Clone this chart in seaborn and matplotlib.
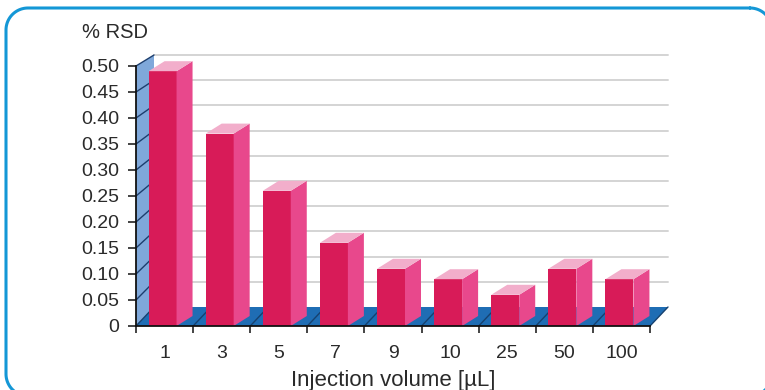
import numpy as np
import matplotlib
matplotlib.use("Agg")
import matplotlib.pyplot as plt
import pandas as pd
import seaborn as sns
from matplotlib.patches import Polygon

# Data
volumes = ["1", "3", "5", "7", "9", "10", "25", "50", "100"]
rsd = [0.49, 0.37, 0.26, 0.16, 0.11, 0.09, 0.06, 0.11, 0.09]
y_ticks = [0.0, 0.05, 0.10, 0.15, 0.20, 0.25, 0.30, 0.35, 0.40, 0.45, 0.50]
y_tick_labels = ["0", "0.05", "0.10", "0.15", "0.20", "0.25", "0.30",
                 "0.35", "0.40", "0.45", "0.50"]

# Colours
FRONT = "#d81b58"
SIDE = "#e8488c"
TOP = "#f2aecb"
WALL = "#7fa8da"
FLOOR = "#1f6db4"
GRID = "#d4d4d4"
TEXT = "#2a2a2a"
FRAME = "#1497d6"

sns.set_theme(style="white")
plt.rcParams["font.family"] = ["Liberation Sans", "DejaVu Sans"]

W, H, DPI = 765, 390, 100
fig = plt.figure(figsize=(W / DPI, H / DPI), dpi=DPI)
fig.patch.set_facecolor("white")

# background layer in pixel units for the rounded frame
bg = fig.add_axes([0, 0, 1, 1], zorder=-5)
bg.set_xlim(0, W)
bg.set_ylim(H, 0)
bg.axis("off")


def rounded_rect(x0, y0, x1, y1, r, k=24):
    pts = []
    corners = [(x1 - r, y0 + r, -90, 0), (x1 - r, y1 - r, 0, 90),
               (x0 + r, y1 - r, 90, 180), (x0 + r, y0 + r, 180, 270)]
    for cx, cy, a0, a1 in corners:
        a = np.radians(np.linspace(a0, a1, k))
        pts.append(np.column_stack([cx + r * np.cos(a), cy + r * np.sin(a)]))
    pts = np.vstack(pts + [pts[0][:1]])
    return pts[:, 0], pts[:, 1]


fx, fy = rounded_rect(6, 8, 772, 396, 22)
bg.plot(fx, fy, color=FRAME, lw=2.2, clip_on=False)

# Axes box: front plane of the pseudo-3D chart
X0, X1, Y0, Y1 = 136, 650, 326, 66
ax = fig.add_axes([X0 / W, (H - Y0) / H, (X1 - X0) / W, (Y0 - Y1) / H])
ax.set_facecolor("none")

n = len(volumes)
px_x = (X1 - X0) / n          # pixels per category
px_y = (Y0 - Y1) / 0.5        # pixels per unit of % RSD

# depth offsets (data units)
wall_dx = 18 / px_x
floor_dy = 19 / px_y
wall_top_dy = 11 / px_y
bar_dx = 16 / px_x
bar_dy = 10 / px_y


def back_y(v):
    # height on the back wall for a value on the front axis
    return floor_dy + v * (1 - (floor_dy - wall_top_dy) / 0.5)


df = pd.DataFrame({"volume": volumes, "rsd": rsd})
sns.barplot(data=df, x="volume", y="rsd", order=volumes, color=FRONT,
            saturation=1, width=0.49, linewidth=0, ax=ax, zorder=6)

ax.set_xlim(-0.5, n - 0.5)
ax.set_ylim(0, 0.5)

# side wall
left = -0.5
ax.add_patch(Polygon([(left, 0), (left, 0.5), (left + wall_dx, back_y(0.5)),
                      (left + wall_dx, back_y(0))],
                     closed=True, facecolor=WALL, edgecolor="none",
                     zorder=1, clip_on=False))
for v in y_ticks[1:]:
    ax.plot([left, left + wall_dx], [v, back_y(v)], color="#1e3f6e",
            lw=1.0, zorder=2, clip_on=False)

# floor
right = n - 0.5
ax.add_patch(Polygon([(left, 0), (right, 0), (right + wall_dx, floor_dy),
                      (left + wall_dx, floor_dy)],
                     closed=True, facecolor=FLOOR, edgecolor="none",
                     zorder=1, clip_on=False))
for b in range(n + 1):
    xb = b - 0.5
    ax.plot([xb, xb + wall_dx], [0, floor_dy], color="#16416f",
            lw=1.0, zorder=2, clip_on=False)

# back wall grid lines
for v in y_ticks[1:]:
    ax.plot([left + wall_dx, right + wall_dx], [back_y(v), back_y(v)],
            color=GRID, lw=1.4, zorder=1.5, clip_on=False)

# bar sides and tops
front_rgb = matplotlib.colors.to_rgb(FRONT)
for p in list(ax.patches):
    if tuple(p.get_facecolor()[:3]) != front_rgb:
        continue
    p.set_x(p.get_x() - 0.035)
    x0 = p.get_x()
    x1 = x0 + p.get_width()
    h = p.get_height()
    ax.add_patch(Polygon([(x1, 0), (x1, h), (x1 + bar_dx, h + bar_dy),
                          (x1 + bar_dx, bar_dy)], closed=True,
                         facecolor=SIDE, edgecolor="none", zorder=6,
                         clip_on=False))
    ax.add_patch(Polygon([(x0, h), (x1, h), (x1 + bar_dx, h + bar_dy),
                          (x0 + bar_dx, h + bar_dy)], closed=True,
                         facecolor=TOP, edgecolor="none", zorder=6,
                         clip_on=False))

# axes, ticks and labels
for s in ["top", "right"]:
    ax.spines[s].set_visible(False)
for s in ["left", "bottom"]:
    ax.spines[s].set_color("#111111")
    ax.spines[s].set_linewidth(1.3)
    ax.spines[s].set_zorder(8)

ax.set_yticks(y_ticks)
ax.set_yticklabels(y_tick_labels)
ax.tick_params(axis="y", which="major", left=True, length=6, width=1.1,
               color="#111111", pad=6, labelsize=14, labelcolor=TEXT)

ax.set_xticks(range(n))
ax.set_xticklabels(volumes)
ax.set_xticks([b - 0.5 for b in range(n + 1)], minor=True)
ax.tick_params(axis="x", which="major", bottom=True, length=0, pad=14,
               labelsize=14, labelcolor=TEXT)
ax.tick_params(axis="x", which="minor", bottom=True, length=5, width=1.1,
               color="#111111")

ax.set_xlabel("Injection volume [µL]", fontsize=16, color=TEXT,
              labelpad=5.5)
ax.set_ylabel("")
ax.grid(False)

fig.text(82 / W, 1 - 32 / H, "% RSD", fontsize=14.5, color=TEXT,
         ha="left", va="center")

fig.savefig("out.png", dpi=DPI)
